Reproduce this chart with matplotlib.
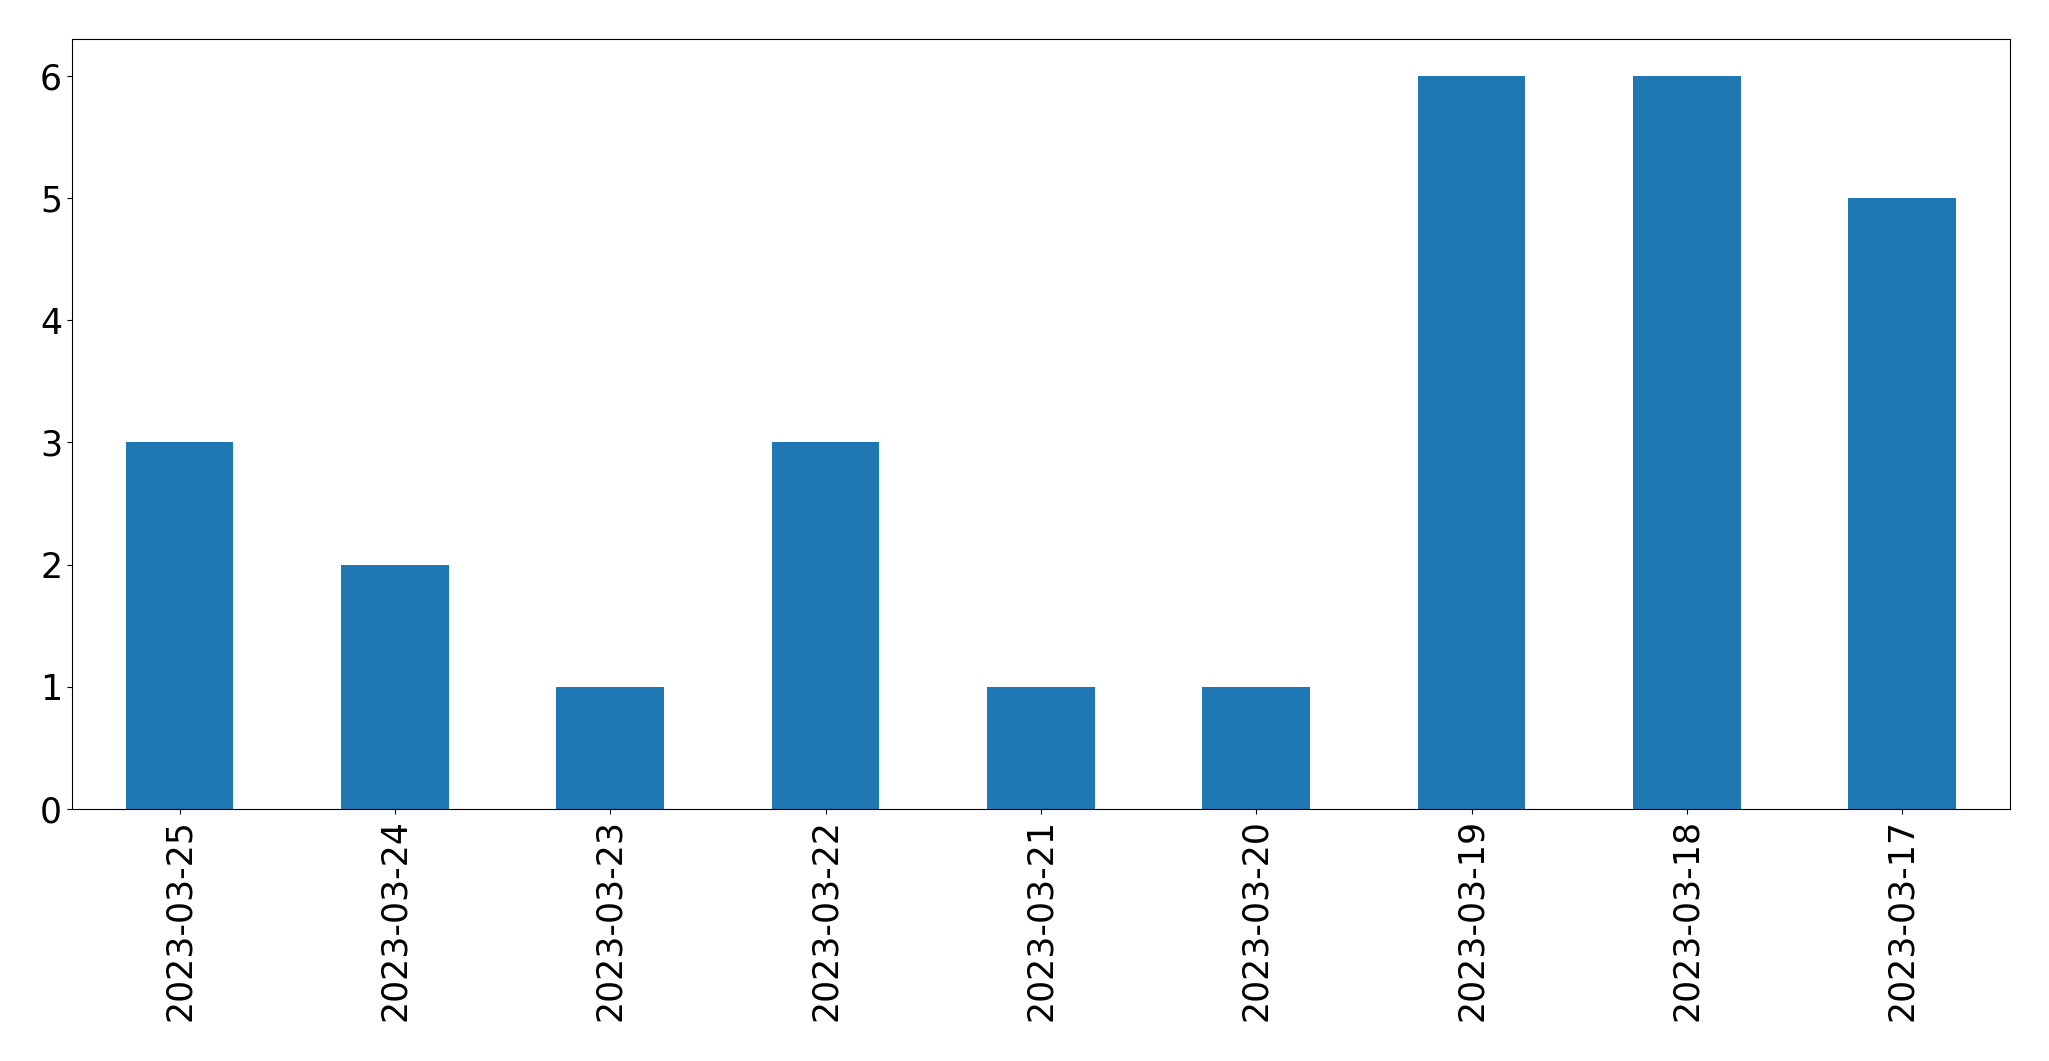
import matplotlib
matplotlib.use("Agg")
import matplotlib.pyplot as plt

dates = ["2023-03-25", "2023-03-24", "2023-03-23", "2023-03-22", "2023-03-21",
         "2023-03-20", "2023-03-19", "2023-03-18", "2023-03-17"]
counts = [3, 2, 1, 3, 1, 1, 6, 6, 5]


def main() -> None:
    fig = plt.figure(figsize=(20.49, 10.61), dpi=100)
    ax = fig.add_axes([0.0351, 0.2375, 0.9458, 0.7257])

    x = list(range(len(dates)))
    ax.bar(x, counts, width=0.5, color="#1f77b4", linewidth=0)
    ax.set_xlim(-0.5, len(dates) - 0.5)
    ax.set_xticks(x)
    ax.set_xticklabels(dates, rotation=90)
    ax.tick_params(axis="both", labelsize=25)

    fig.savefig("out.png", dpi=100)


if __name__ == "__main__":
    main()
